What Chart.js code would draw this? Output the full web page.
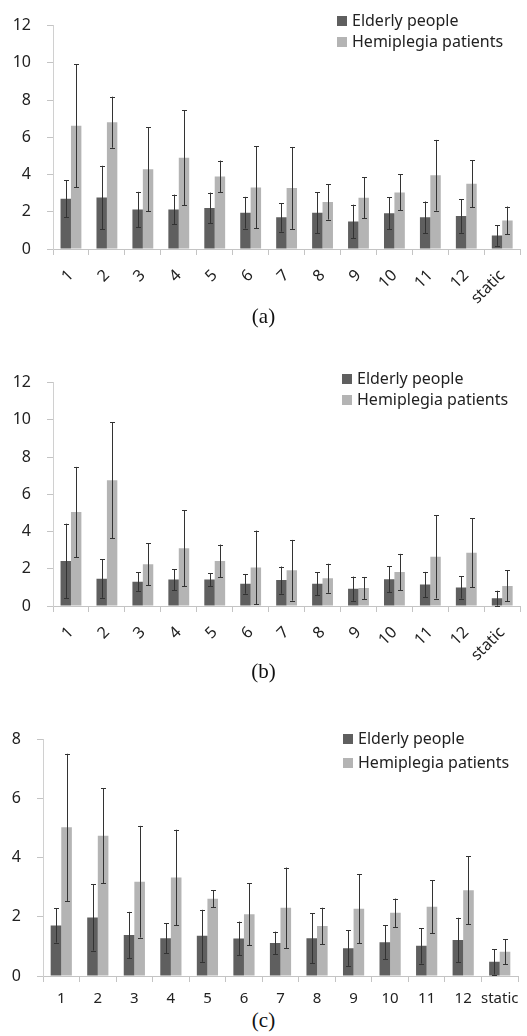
<!DOCTYPE html>
<html>
<head>
<meta charset="utf-8">
<script src="https://cdn.jsdelivr.net/npm/chart.js@4"></script>
<style>
  body { margin: 0; background: #fff; width: 527px; height: 1036px; position: relative; overflow: hidden; }
  .box { position: absolute; left: 0; width: 527px; }
  .cap { position: absolute; left: 0; width: 527px; text-align: center; font-family: "Liberation Serif", serif; font-size: 21px; color: #111; }
  .legend { position: absolute; font-family: "Noto Sans", sans-serif; font-size: 16px; color: #222; }
  .legend div { height: 21px; line-height: 21px; white-space: nowrap; }
  .legend span { display: inline-block; width: 10px; height: 10px; margin-right: 5px; }
</style>
</head>
<body>
<div class="box" style="top:0px;height:330px"><canvas id="chartA"></canvas></div>
<div class="cap" style="top:304px">(a)</div>
<div class="box" style="top:357px;height:330px"><canvas id="chartB"></canvas></div>
<div class="cap" style="top:659px">(b)</div>
<div class="box" style="top:714px;height:290px"><canvas id="chartC"></canvas></div>
<div class="cap" style="top:1008px">(c)</div>

<div class="legend" style="left:337px;top:10px">
  <div><span style="background:#5f5f5f"></span>Elderly people</div>
  <div><span style="background:#b4b4b4"></span>Hemiplegia patients</div>
</div>
<div class="legend" style="left:342px;top:368px">
  <div><span style="background:#5f5f5f"></span>Elderly people</div>
  <div><span style="background:#b4b4b4"></span>Hemiplegia patients</div>
</div>
<div class="legend" style="left:343px;top:726px">
  <div style="height:24px;line-height:24px"><span style="background:#5f5f5f"></span>Elderly people</div>
  <div style="height:24px;line-height:24px"><span style="background:#b4b4b4"></span>Hemiplegia patients</div>
</div>

<script>
// categories
const labels = ['1', '2', '3', '4', '5', '6', '7', '8', '9', '10', '11', '12', 'static'];

// (a)
const aElderly   = [2.7, 2.77, 2.12, 2.12, 2.2, 1.95, 1.7, 1.95, 1.48, 1.92, 1.7, 1.77, 0.72];
const aElderlySd = [1.0, 1.7, 0.95, 0.8, 0.83, 0.85, 0.77, 1.1, 0.9, 0.87, 0.85, 0.9, 0.55];
const aHemi      = [6.62, 6.81, 4.28, 4.9, 3.9, 3.31, 3.28, 2.53, 2.75, 3.04, 3.96, 3.5, 1.53];
const aHemiSd    = [3.3, 1.37, 2.25, 2.55, 0.85, 2.2, 2.2, 0.95, 1.1, 0.97, 1.9, 1.27, 0.75];

// (b)
const bElderly   = [2.42, 1.47, 1.3, 1.42, 1.42, 1.19, 1.39, 1.2, 0.93, 1.44, 1.15, 1.0, 0.42];
const bElderlySd = [2.0, 1.03, 0.52, 0.56, 0.35, 0.53, 0.73, 0.62, 0.65, 0.7, 0.68, 0.6, 0.4];
const bHemi      = [5.05, 6.75, 2.24, 3.1, 2.42, 2.07, 1.92, 1.49, 0.97, 1.83, 2.64, 2.86, 1.08];
const bHemiSd    = [2.42, 3.12, 1.12, 2.03, 0.88, 1.98, 1.63, 0.78, 0.59, 0.97, 2.24, 1.86, 0.83];

// (c)
const cElderly   = [1.71, 1.98, 1.39, 1.28, 1.36, 1.27, 1.12, 1.28, 0.94, 1.14, 1.02, 1.22, 0.48];
const cElderlySd = [0.58, 1.12, 0.78, 0.51, 0.88, 0.57, 0.38, 0.85, 0.6, 0.57, 0.6, 0.75, 0.43];
const cHemi      = [5.03, 4.75, 3.19, 3.33, 2.61, 2.09, 2.31, 1.69, 2.28, 2.14, 2.34, 2.9, 0.82];
const cHemiSd    = [2.49, 1.61, 1.89, 1.62, 0.29, 1.05, 1.36, 0.62, 1.17, 0.48, 0.9, 1.15, 0.43];

const darkColor = '#5f5f5f';
const lightColor = '#b4b4b4';

// draws the +/- sd whiskers on top of the bars
const errorBars = {
    id: 'errorBars',
    afterDatasetsDraw(chart) {
        const ctx = chart.ctx;
        const y = chart.scales.y;
        ctx.save();
        ctx.strokeStyle = '#333';
        ctx.lineWidth = 1;
        chart.data.datasets.forEach((ds, i) => {
            const meta = chart.getDatasetMeta(i);
            meta.data.forEach((bar, j) => {
                const v = ds.data[j];
                const e = ds.errors[j];
                const x = Math.round(bar.x) + 0.5;
                const top = y.getPixelForValue(v + e);
                const bot = y.getPixelForValue(Math.max(v - e, 0));
                ctx.beginPath();
                ctx.moveTo(x, top);
                ctx.lineTo(x, bot);
                ctx.moveTo(x - 2.5, Math.round(top) + 0.5);
                ctx.lineTo(x + 2.5, Math.round(top) + 0.5);
                ctx.moveTo(x - 2.5, Math.round(bot) + 0.5);
                ctx.lineTo(x + 2.5, Math.round(bot) + 0.5);
                ctx.stroke();
            });
        });
        ctx.restore();
    }
};

function makeChart(id, elderly, elderlySd, hemi, hemiSd, yMax, opts) {
    new Chart(document.getElementById(id), {
        type: 'bar',
        data: {
            labels: labels,
            datasets: [{
                label: 'Elderly people',
                data: elderly,
                errors: elderlySd,
                backgroundColor: darkColor,
                barPercentage: 1.0,
                categoryPercentage: 0.58
            }, {
                label: 'Hemiplegia patients',
                data: hemi,
                errors: hemiSd,
                backgroundColor: lightColor,
                barPercentage: 1.0,
                categoryPercentage: 0.58
            }]
        },
        options: {
            responsive: true,
            maintainAspectRatio: false,
            animation: false,
            layout: { padding: { top: 13, right: opts.right, left: 0, bottom: 0 } },
            plugins: { legend: { display: false }, tooltip: { enabled: false } },
            scales: {
                x: {
                    grid: { display: true, drawOnChartArea: false, offset: true, tickLength: 6, color: '#c4c4c4' },
                    border: { color: '#c4c4c4' },
                    ticks: {
                        color: '#222',
                        font: { family: 'Noto Sans', size: opts.xFont },
                        minRotation: opts.rot,
                        maxRotation: opts.rot,
                        autoSkip: false,
                        padding: opts.xPad
                    },
                    afterFit: (s) => { s.height = opts.xHeight; }
                },
                y: {
                    min: 0,
                    max: yMax,
                    grid: { display: true, drawOnChartArea: false, tickLength: 6, color: '#c4c4c4' },
                    border: { color: '#d0d0d0' },
                    ticks: {
                        stepSize: 2,
                        color: '#222',
                        font: { family: 'Noto Sans', size: 16 },
                        padding: opts.yPad
                    },
                    afterFit: (s) => { s.width = opts.yWidth; }
                }
            }
        },
        plugins: [errorBars]
    });
}

makeChart('chartA', aElderly, aElderlySd, aHemi, aHemiSd, 12,
    { right: 5, rot: 45, xFont: 16, xPad: 11, xHeight: 81, yWidth: 53, yPad: 16 });
makeChart('chartB', bElderly, bElderlySd, bHemi, bHemiSd, 12,
    { right: 5, rot: 45, xFont: 16, xPad: 11, xHeight: 81, yWidth: 53, yPad: 16 });
makeChart('chartC', cElderly, cElderlySd, cHemi, cHemiSd, 8,
    { right: 9, rot: 0, xFont: 15, xPad: 8, xHeight: 28, yWidth: 43, yPad: 16 });
</script>
</body>
</html>
